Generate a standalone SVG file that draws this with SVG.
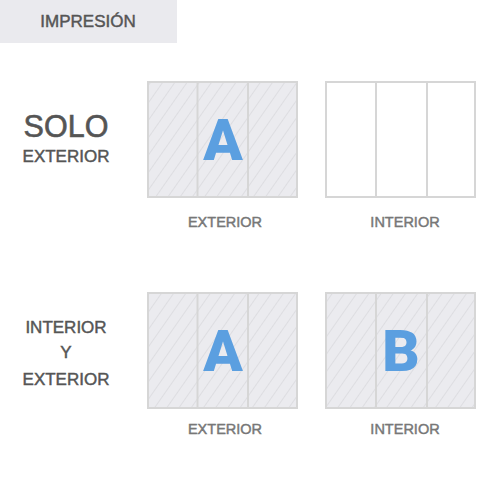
<svg xmlns="http://www.w3.org/2000/svg" width="500" height="500" viewBox="0 0 500 500">
<defs>
<pattern id="hatch" patternUnits="userSpaceOnUse" width="10" height="10" patternTransform="rotate(35)">
<rect width="10" height="10" fill="#ebebef"/>
<line x1="0" y1="0" x2="0" y2="10" stroke="#d6d6da" stroke-width="1.3"/>
</pattern>
</defs>
<style>
text{font-family:"Liberation Sans",Arial,sans-serif;text-anchor:middle;stroke-width:0.45px}
.panel{stroke:#d6d6d6;stroke-width:2}
.div{stroke:#d6d6d6;stroke-width:2}
.big{font-family:Roboto,"Liberation Sans",sans-serif;font-size:58px;font-weight:900;fill:#5b9fe0;stroke:none}
.lab{font-size:14.5px;fill:#777;stroke:#777}
.side{font-size:17px;fill:#555;stroke:#555}
</style>
<rect width="500" height="500" fill="#fff"/>
<g id="header">
<rect x="0" y="0" width="177" height="43" fill="#eaeaee"/>
<text x="88" y="27" class="side">IMPRESIÓN</text>
</g>
<g id="row1-label">
<text x="66" y="137" class="side" style="font-size:30.5px;stroke-width:0.6px">SOLO</text>
<text x="66" y="162" class="side">EXTERIOR</text>
</g>
<g id="row2-label">
<text x="66" y="333" class="side">INTERIOR</text>
<text x="66" y="358" class="side">Y</text>
<text x="66" y="385" class="side">EXTERIOR</text>
</g>
<g id="p1">
<rect x="148" y="82" width="149" height="115" fill="url(#hatch)" class="panel"/>
<line x1="197.5" y1="82" x2="197.5" y2="197" class="div"/>
<line x1="248" y1="82" x2="248" y2="197" class="div"/>
<text x="223" y="160" class="big">A</text>
<text x="225" y="227" class="lab">EXTERIOR</text>
</g>
<g id="p2">
<rect x="326" y="82" width="149" height="115" fill="#fff" class="panel"/>
<line x1="376" y1="82" x2="376" y2="197" class="div"/>
<line x1="427" y1="82" x2="427" y2="197" class="div"/>
<text x="405" y="227" class="lab">INTERIOR</text>
</g>
<g id="p3">
<rect x="148" y="293" width="149" height="115" fill="url(#hatch)" class="panel"/>
<line x1="197.5" y1="293" x2="197.5" y2="408" class="div"/>
<line x1="248" y1="293" x2="248" y2="408" class="div"/>
<text x="223" y="371" class="big">A</text>
<text x="225" y="434" class="lab">EXTERIOR</text>
</g>
<g id="p4">
<rect x="326" y="293" width="149" height="115" fill="url(#hatch)" class="panel"/>
<line x1="376" y1="293" x2="376" y2="408" class="div"/>
<line x1="427" y1="293" x2="427" y2="408" class="div"/>
<text x="401" y="371" class="big">B</text>
<text x="405" y="434" class="lab">INTERIOR</text>
</g>
<g id="connectors"/>
</svg>
